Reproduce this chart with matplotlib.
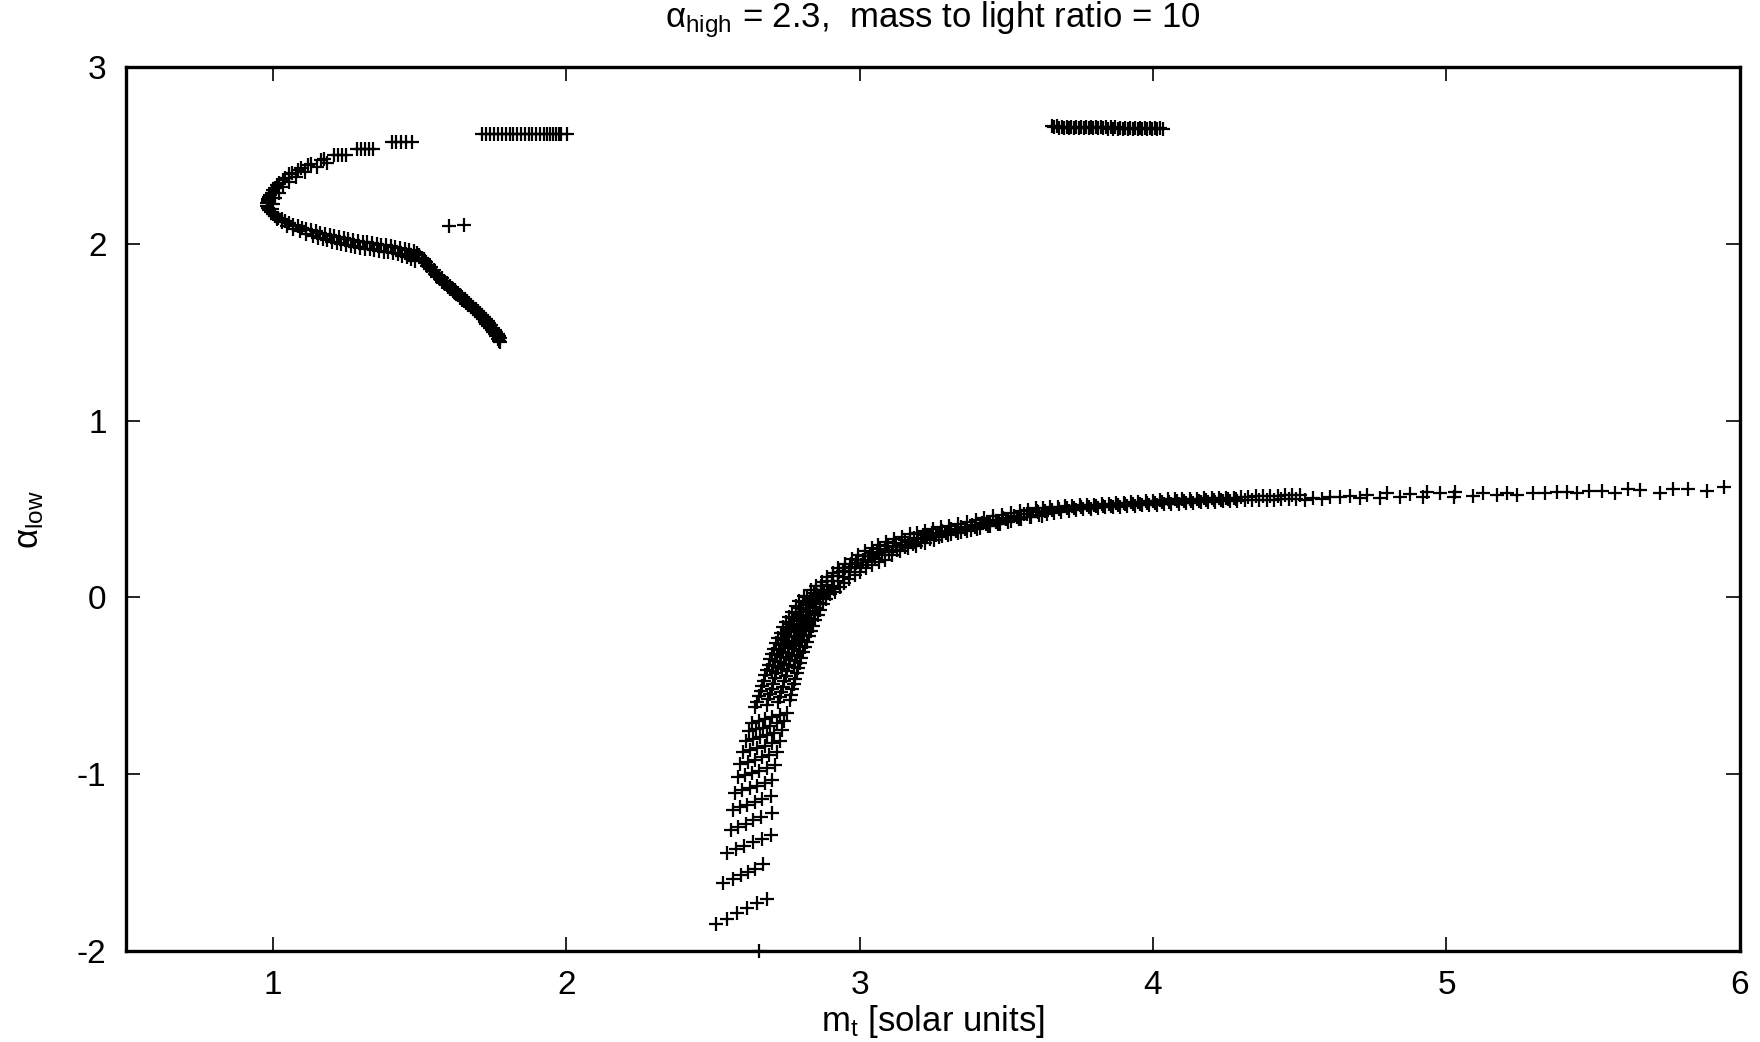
# alpha_low vs m_t scan (alpha_high = 2.3, M/L = 10), gnuplot-style '+' points

import matplotlib
matplotlib.use('Agg')
import matplotlib.pyplot as plt
from matplotlib import font_manager

# Fonts: a Helvetica-like face
installed = {f.name for f in font_manager.fontManager.ttflist}
face = 'Liberation Sans' if 'Liberation Sans' in installed else 'DejaVu Sans'
plt.rcParams['font.family'] = [face, 'DejaVu Sans']
plt.rcParams['mathtext.fontset'] = 'custom'
plt.rcParams['mathtext.rm'] = face
plt.rcParams['mathtext.it'] = face
plt.rcParams['axes.unicode_minus'] = False


# Data

# upper branch: S-shaped curve (two close tracks)
s_x = [1.175, 1.165, 1.130, 1.120, 1.095, 1.085, 1.065, 1.056, 1.042, 1.034, 1.022, 1.015,
       1.008, 1.002, 0.996, 0.992, 0.988, 0.985, 0.983, 0.982, 0.982, 0.984, 0.988, 0.993,
       1.000, 1.008, 1.018, 1.030, 1.042, 1.056, 1.070, 1.085, 1.100, 1.115,
       1.130, 1.146, 1.162, 1.178, 1.194, 1.210, 1.226, 1.242, 1.258, 1.274, 1.290, 1.306,
       1.322, 1.338, 1.354, 1.370, 1.386, 1.402, 1.418, 1.434, 1.450, 1.466, 1.480, 1.492,
       1.500, 1.507, 1.513, 1.520, 1.527, 1.535, 1.543, 1.552, 1.560, 1.569, 1.578, 1.587,
       1.596, 1.605, 1.614, 1.622, 1.630, 1.638, 1.646, 1.653, 1.660, 1.667, 1.674, 1.681,
       1.688, 1.695, 1.702, 1.709, 1.716, 1.722, 1.728, 1.734, 1.740, 1.746, 1.752, 1.757,
       1.762, 1.767, 1.772, 1.776]
s_y = [2.478, 2.472, 2.452, 2.446, 2.428, 2.420, 2.400, 2.392, 2.372, 2.362, 2.345, 2.335,
       2.318, 2.305, 2.290, 2.278, 2.265, 2.252, 2.240, 2.228, 2.215, 2.203, 2.190, 2.179,
       2.168, 2.158, 2.148, 2.138, 2.128, 2.118, 2.109, 2.100, 2.092, 2.084,
       2.077, 2.070, 2.063, 2.056, 2.050, 2.044, 2.038, 2.032, 2.027, 2.022, 2.017, 2.012,
       2.008, 2.004, 2.000, 1.996, 1.992, 1.988, 1.983, 1.978, 1.972, 1.965, 1.958, 1.948,
       1.935, 1.920, 1.905, 1.890, 1.875, 1.860, 1.845, 1.830, 1.815, 1.800, 1.786, 1.772,
       1.758, 1.745, 1.732, 1.720, 1.708, 1.696, 1.685, 1.675, 1.665, 1.654, 1.643, 1.632,
       1.620, 1.608, 1.596, 1.584, 1.572, 1.560, 1.548, 1.536, 1.524, 1.512, 1.500, 1.488,
       1.476, 1.464, 1.452, 1.442]
s2_x = [1.185, 1.150, 1.110, 1.080, 1.056, 1.036, 1.020, 1.008, 1.000, 0.998, 1.004, 1.016,
        1.032, 1.050, 1.070, 1.092, 1.115,
        1.138, 1.154, 1.170, 1.186, 1.202, 1.218, 1.234, 1.250, 1.266, 1.282, 1.298, 1.314,
        1.330, 1.346, 1.362, 1.378, 1.394, 1.410, 1.426, 1.442, 1.458, 1.472, 1.485,
        1.515, 1.524, 1.532, 1.540, 1.549, 1.558, 1.567, 1.576, 1.585, 1.594, 1.603, 1.612,
        1.621, 1.630, 1.638, 1.646, 1.654, 1.662, 1.669, 1.677, 1.684, 1.691, 1.698, 1.705,
        1.712, 1.719, 1.726, 1.732, 1.738, 1.744, 1.750, 1.756, 1.761, 1.766, 1.771, 1.776]
s2_y = [2.455, 2.432, 2.405, 2.380, 2.352, 2.322, 2.290, 2.258, 2.226, 2.196, 2.168, 2.143,
        2.121, 2.102, 2.085, 2.070, 2.057,
        2.044, 2.035, 2.027, 2.019, 2.012, 2.005, 1.999, 1.993, 1.987, 1.982, 1.977, 1.972,
        1.968, 1.964, 1.960, 1.956, 1.951, 1.946, 1.940, 1.933, 1.925, 1.915, 1.903,
        1.915, 1.898, 1.882, 1.866, 1.850, 1.835, 1.820, 1.805, 1.791, 1.777, 1.763, 1.750,
        1.737, 1.724, 1.712, 1.700, 1.689, 1.678, 1.667, 1.656, 1.645, 1.634, 1.622, 1.610,
        1.598, 1.586, 1.574, 1.562, 1.550, 1.538, 1.526, 1.514, 1.502, 1.490, 1.478, 1.466]

# small steps above the S curve
step_x = [1.210, 1.222, 1.235, 1.248, 1.286, 1.300, 1.314, 1.329, 1.343,
          1.405, 1.421, 1.438, 1.455, 1.473]
step_y = [2.502, 2.502, 2.502, 2.502, 2.537, 2.537, 2.537, 2.537, 2.537,
          2.578, 2.578, 2.578, 2.578, 2.578]

# top row
top_x = [1.712, 1.727, 1.741, 1.755, 1.768, 1.781, 1.794, 1.807, 1.820, 1.833, 1.846, 1.859,
         1.872, 1.885, 1.898, 1.911, 1.923, 1.935, 1.946, 1.956, 1.965, 1.974, 1.983, 2.003]
top_y = [2.622, 2.622, 2.622, 2.622, 2.622, 2.622, 2.622, 2.622, 2.622, 2.622, 2.622, 2.622,
         2.621, 2.621, 2.621, 2.621, 2.621, 2.621, 2.621, 2.621, 2.621, 2.621, 2.621, 2.621]

# two isolated points
pair_x = [1.602, 1.652]
pair_y = [2.098, 2.104]

# dense bar near alpha_low = 2.65
bar_x = [3.656, 3.664, 3.672, 3.681, 3.689, 3.697, 3.706, 3.714, 3.722, 3.731, 3.739, 3.747,
         3.756, 3.764, 3.772, 3.781, 3.789, 3.797, 3.806, 3.814, 3.822, 3.831, 3.839, 3.847,
         3.856, 3.864, 3.872, 3.881, 3.889, 3.897, 3.906, 3.914, 3.922, 3.931, 3.939, 3.947,
         3.956, 3.964, 3.972, 3.981, 3.989, 3.997, 4.006, 4.014, 4.022, 4.034]
bar_y = [2.664, 2.658, 2.664, 2.657, 2.663, 2.657, 2.663, 2.656, 2.662, 2.656, 2.662, 2.655,
         2.661, 2.655, 2.661, 2.654, 2.660, 2.654, 2.660, 2.653, 2.659, 2.653, 2.659, 2.652,
         2.658, 2.652, 2.658, 2.651, 2.657, 2.651, 2.657, 2.650, 2.656, 2.650, 2.656, 2.649,
         2.655, 2.649, 2.655, 2.648, 2.654, 2.648, 2.654, 2.647, 2.653, 2.647]

# lower branch: separated rows at the bottom
row_x = [2.511, 2.547, 2.581, 2.615, 2.649, 2.686,
         2.536, 2.567, 2.595, 2.621, 2.645, 2.670,
         2.549, 2.579, 2.607, 2.636, 2.666, 2.697,
         2.560, 2.587, 2.612, 2.638, 2.664, 2.700,
         2.568, 2.592, 2.617, 2.643, 2.668, 2.697,
         2.575, 2.600, 2.625, 2.650, 2.676, 2.703,
         2.584, 2.608, 2.633, 2.658, 2.684, 2.712,
         2.594, 2.618, 2.642, 2.667, 2.692, 2.720,
         2.604, 2.628, 2.652, 2.676, 2.700, 2.728,
         2.614, 2.638, 2.661, 2.685, 2.709, 2.736,
         2.624, 2.647, 2.670, 2.694, 2.718, 2.744,
         2.633, 2.656, 2.679, 2.703, 2.727, 2.752]
row_y = [-1.849, -1.821, -1.787, -1.758, -1.726, -1.706,
         -1.613, -1.592, -1.572, -1.553, -1.535, -1.508,
         -1.447, -1.425, -1.405, -1.383, -1.366, -1.344,
         -1.315, -1.297, -1.280, -1.260, -1.241, -1.221,
         -1.202, -1.187, -1.172, -1.158, -1.142, -1.121,
         -1.105, -1.092, -1.078, -1.064, -1.050, -1.030,
         -1.018, -1.006, -0.993, -0.979, -0.965, -0.948,
         -0.942, -0.930, -0.917, -0.904, -0.890, -0.876,
         -0.874, -0.862, -0.850, -0.838, -0.825, -0.811,
         -0.813, -0.802, -0.790, -0.778, -0.766, -0.752,
         -0.758, -0.747, -0.736, -0.725, -0.713, -0.700,
         -0.708, -0.698, -0.687, -0.676, -0.665, -0.652]

# lower branch: steep dense part
neck_x = [2.645, 2.684, 2.723, 2.762, 2.651, 2.689, 2.728, 2.766,
          2.657, 2.695, 2.733, 2.771, 2.663, 2.701, 2.738, 2.776,
          2.668, 2.706, 2.743, 2.781, 2.673, 2.711, 2.748, 2.786,
          2.679, 2.716, 2.754, 2.791, 2.684, 2.721, 2.759, 2.796,
          2.690, 2.727, 2.764, 2.801, 2.696, 2.733, 2.770, 2.807,
          2.702, 2.739, 2.776, 2.813, 2.709, 2.746, 2.782, 2.819,
          2.716, 2.753, 2.789, 2.826, 2.723, 2.760, 2.796, 2.833,
          2.731, 2.767, 2.804, 2.840, 2.740, 2.776, 2.812, 2.848,
          2.749, 2.785, 2.821, 2.857, 2.759, 2.795, 2.830, 2.866,
          2.770, 2.805, 2.841, 2.876, 2.782, 2.817, 2.852, 2.887,
          2.795, 2.830, 2.864, 2.899, 2.809, 2.843, 2.878, 2.912]
neck_y = [-0.620, -0.607, -0.594, -0.580, -0.590, -0.577, -0.564, -0.550,
          -0.560, -0.547, -0.534, -0.520, -0.530, -0.517, -0.504, -0.490,
          -0.500, -0.487, -0.474, -0.460, -0.470, -0.457, -0.444, -0.430,
          -0.440, -0.427, -0.414, -0.400, -0.410, -0.397, -0.384, -0.370,
          -0.380, -0.367, -0.354, -0.340, -0.350, -0.337, -0.324, -0.310,
          -0.320, -0.307, -0.294, -0.280, -0.290, -0.277, -0.264, -0.250,
          -0.260, -0.247, -0.234, -0.220, -0.230, -0.217, -0.204, -0.190,
          -0.200, -0.187, -0.174, -0.160, -0.170, -0.157, -0.144, -0.130,
          -0.140, -0.127, -0.114, -0.100, -0.110, -0.097, -0.084, -0.070,
          -0.080, -0.067, -0.054, -0.040, -0.050, -0.037, -0.024, -0.010,
          -0.020, -0.007, 0.006, 0.020, 0.010, 0.023, 0.036, 0.050]
neck2_x = [2.700, 2.737, 2.775, 2.706, 2.743, 2.780, 2.711, 2.749, 2.786,
           2.717, 2.755, 2.792, 2.724, 2.761, 2.798, 2.731, 2.768, 2.804,
           2.738, 2.775, 2.811, 2.745, 2.782, 2.818, 2.754, 2.790, 2.826,
           2.763, 2.799, 2.834, 2.772, 2.808, 2.844, 2.782, 2.818, 2.853,
           2.794, 2.829, 2.864, 2.806, 2.841, 2.876, 2.819, 2.854, 2.888]
neck2_y = [-0.418, -0.405, -0.392, -0.388, -0.375, -0.362, -0.358, -0.345, -0.332,
           -0.328, -0.315, -0.302, -0.298, -0.285, -0.272, -0.268, -0.255, -0.242,
           -0.238, -0.225, -0.212, -0.208, -0.195, -0.182, -0.178, -0.165, -0.152,
           -0.148, -0.135, -0.122, -0.118, -0.105, -0.092, -0.088, -0.075, -0.062,
           -0.058, -0.045, -0.032, -0.028, -0.015, -0.002, 0.002, 0.015, 0.028]

# lower branch: bend, five lanes from the upper to the lower edge of the band
bend_top_x = [2.835, 2.852, 2.871, 2.890, 2.909, 2.928, 2.950, 2.973, 2.996, 3.019, 3.041, 3.064,
              3.090, 3.116, 3.143, 3.170, 3.197, 3.223, 3.250, 3.277, 3.305, 3.335, 3.365, 3.395,
              3.425, 3.455, 3.485, 3.515, 3.545, 3.575]
bend_top_y = [0.040, 0.066, 0.089, 0.115, 0.140, 0.164, 0.190, 0.216, 0.240, 0.261, 0.280, 0.296,
              0.313, 0.329, 0.344, 0.356, 0.367, 0.377, 0.388, 0.397, 0.405, 0.415, 0.425, 0.437,
              0.448, 0.458, 0.468, 0.478, 0.487, 0.495]
bend_q1_x = [2.850, 2.869, 2.889, 2.909, 2.929, 2.950, 2.972, 2.995, 3.019, 3.044, 3.070, 3.097,
             3.125, 3.154, 3.184, 3.215, 3.247, 3.280, 3.313, 3.347, 3.382, 3.417, 3.453, 3.489,
             3.525, 3.561]
bend_q1_y = [0.040, 0.067, 0.093, 0.119, 0.144, 0.168, 0.191, 0.213, 0.234, 0.254, 0.272, 0.290,
             0.307, 0.323, 0.338, 0.351, 0.363, 0.374, 0.386, 0.398, 0.410, 0.423, 0.436, 0.449,
             0.462, 0.474]
bend_mid_x = [2.870, 2.888, 2.906, 2.925, 2.945, 2.966, 2.988, 3.011, 3.035, 3.060, 3.086, 3.113,
              3.141, 3.170, 3.200, 3.231, 3.262, 3.294, 3.327, 3.360, 3.394, 3.429, 3.464, 3.500,
              3.536, 3.572, 3.608]
bend_mid_y = [0.040, 0.068, 0.095, 0.122, 0.147, 0.171, 0.193, 0.214, 0.233, 0.251, 0.268, 0.284,
              0.299, 0.314, 0.328, 0.341, 0.353, 0.365, 0.377, 0.389, 0.401, 0.414, 0.428, 0.442,
              0.456, 0.469, 0.481]
bend_q3_x = [2.893, 2.910, 2.928, 2.946, 2.965, 2.985, 3.006, 3.028, 3.051, 3.075, 3.100, 3.126,
             3.153, 3.181, 3.210, 3.240, 3.271, 3.302, 3.334, 3.367, 3.401, 3.436, 3.471, 3.507,
             3.543, 3.580]
bend_q3_y = [0.036, 0.064, 0.091, 0.117, 0.142, 0.165, 0.186, 0.205, 0.223, 0.240, 0.256, 0.271,
             0.286, 0.300, 0.314, 0.328, 0.341, 0.353, 0.365, 0.377, 0.389, 0.402, 0.415, 0.428,
             0.442, 0.456]
bend_low_x = [2.916, 2.932, 2.948, 2.965, 2.983, 3.002, 3.022, 3.043, 3.065, 3.088, 3.112, 3.138,
              3.165, 3.193, 3.222, 3.252, 3.282, 3.313, 3.345, 3.378, 3.411, 3.445, 3.480, 3.515,
              3.550, 3.585, 3.620]
bend_low_y = [0.032, 0.058, 0.083, 0.106, 0.127, 0.146, 0.164, 0.181, 0.198, 0.214, 0.242, 0.262,
              0.278, 0.293, 0.307, 0.322, 0.345, 0.358, 0.370, 0.382, 0.394, 0.406, 0.418, 0.430,
              0.442, 0.453, 0.463]

# lower branch: flat part (upper, middle and lower lane)
flat_top_x = [3.600, 3.625, 3.650, 3.675, 3.700, 3.725, 3.750, 3.775, 3.800, 3.825, 3.850, 3.875,
              3.900, 3.925, 3.950, 3.975, 4.000, 4.025, 4.050, 4.075, 4.100, 4.125, 4.150, 4.175,
              4.200, 4.225, 4.250, 4.275, 4.300, 4.325, 4.350, 4.375, 4.400, 4.425, 4.450, 4.475,
              4.500]
flat_top_y = [0.505, 0.508, 0.511, 0.514, 0.517, 0.519, 0.521, 0.523, 0.525, 0.527, 0.530, 0.533,
              0.536, 0.539, 0.542, 0.545, 0.548, 0.551, 0.554, 0.556, 0.557, 0.558, 0.559, 0.560,
              0.561, 0.562, 0.564, 0.565, 0.567, 0.569, 0.571, 0.573, 0.575, 0.576, 0.577, 0.579,
              0.580]
flat_mid_x = [3.606, 3.631, 3.656, 3.681, 3.706, 3.731, 3.756, 3.781, 3.806, 3.831, 3.856, 3.881,
              3.906, 3.931, 3.956, 3.981, 4.006, 4.031, 4.056, 4.081, 4.106, 4.131, 4.156, 4.181,
              4.206, 4.231, 4.256, 4.281]
flat_mid_y = [0.486, 0.490, 0.494, 0.498, 0.503, 0.506, 0.509, 0.512, 0.515, 0.517, 0.519, 0.522,
              0.526, 0.529, 0.531, 0.534, 0.536, 0.539, 0.541, 0.543, 0.545, 0.546, 0.548, 0.549,
              0.551, 0.553, 0.554, 0.556]
flat_low_x = [3.612, 3.637, 3.662, 3.687, 3.712, 3.737, 3.762, 3.787, 3.812, 3.837, 3.862, 3.887,
              3.912, 3.937, 3.962, 3.987, 4.012, 4.037, 4.062, 4.087, 4.112, 4.137, 4.162, 4.187,
              4.212, 4.237, 4.262, 4.287, 4.312, 4.337, 4.362, 4.387, 4.412, 4.437, 4.462, 4.487]
flat_low_y = [0.466, 0.473, 0.479, 0.485, 0.490, 0.494, 0.498, 0.502, 0.506, 0.509, 0.511, 0.513,
              0.516, 0.518, 0.520, 0.522, 0.524, 0.526, 0.529, 0.531, 0.533, 0.535, 0.537, 0.539,
              0.541, 0.543, 0.545, 0.547, 0.549, 0.550, 0.551, 0.552, 0.553, 0.555, 0.556, 0.557]

# lower branch: sparse tail
tail_x = [4.518, 4.546, 4.575, 4.603, 4.637, 4.671, 4.705, 4.728, 4.774, 4.796, 4.842, 4.876,
          4.921, 4.933, 4.978, 5.024, 5.030, 5.092, 5.126, 5.171, 5.205, 5.240, 5.296, 5.336,
          5.376, 5.410, 5.444, 5.484, 5.529, 5.575, 5.620, 5.660, 5.728, 5.773, 5.824, 5.887,
          5.944]
tail_y = [0.551, 0.561, 0.555, 0.570, 0.566, 0.574, 0.561, 0.580, 0.561, 0.589, 0.570, 0.585,
          0.570, 0.598, 0.589, 0.570, 0.598, 0.574, 0.593, 0.580, 0.589, 0.580, 0.589, 0.593,
          0.598, 0.598, 0.589, 0.604, 0.604, 0.589, 0.612, 0.608, 0.593, 0.611, 0.612, 0.604,
          0.623]

# single point sitting on the lower border
edge_x = [2.657]
edge_y = [-2.0]

x_ticks = [1, 2, 3, 4, 5, 6]
y_ticks = [-2, -1, 0, 1, 2, 3]


# Plot

fig = plt.figure(figsize=(17.6, 10.42), dpi=100)
ax = fig.add_axes([0.0716, 0.0873, 0.9170, 0.8484])

marker = dict(linestyle='none', marker='+', color='black', markersize=10.5, markeredgewidth=1.6)

for xs, ys in [(s_x, s_y), (s2_x, s2_y), (step_x, step_y), (top_x, top_y), (pair_x, pair_y),
               (bar_x, bar_y), (row_x, row_y), (neck_x, neck_y), (neck2_x, neck2_y),
               (bend_top_x, bend_top_y), (bend_q1_x, bend_q1_y), (bend_mid_x, bend_mid_y),
               (bend_q3_x, bend_q3_y), (bend_low_x, bend_low_y),
               (flat_top_x, flat_top_y), (flat_mid_x, flat_mid_y), (flat_low_x, flat_low_y),
               (tail_x, tail_y)]:
    ax.plot(xs, ys, **marker)
ax.plot(edge_x, edge_y, clip_on=False, **marker)

ax.set_xlim(0.5, 6)
ax.set_ylim(-2, 3)
ax.set_xticks(x_ticks)
ax.set_yticks(y_ticks)
ax.tick_params(direction='in', length=10, width=1.2, top=True, right=True,
               labelsize=24, pad=14)
for spine in ax.spines.values():
    spine.set_linewidth(2.4)

fig.text(0.530, 1 - 20 / 1042, 'α$_{\\mathrm{high}}$ = 2.3,  mass to light ratio = 10',
         ha='center', va='center', fontsize=25)
fig.text(0.530, 1 - 1021 / 1042, 'm$_{\\mathrm{t}}$ [solar units]',
         ha='center', va='center', fontsize=25)
fig.text(30 / 1760, 1 - 520 / 1042, 'α$_{\\mathrm{low}}$',
         ha='center', va='center', rotation=90, fontsize=25)

fig.savefig('out.png', dpi=100)
